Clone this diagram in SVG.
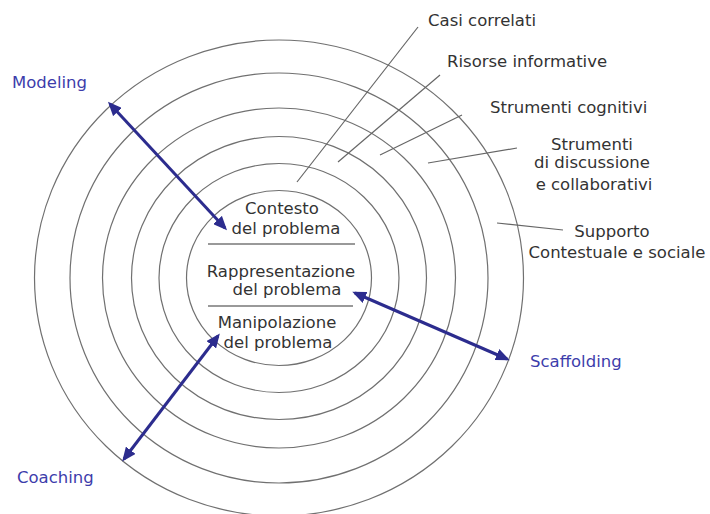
<svg xmlns="http://www.w3.org/2000/svg" width="710" height="514" viewBox="0 0 710 514">
<defs>
<style>
.ring{fill:none;stroke:#707070;stroke-width:1.2}
.sep{stroke:#777;stroke-width:1.3}
.ptr{stroke:#666;stroke-width:1.2}
.t{font-family:"DejaVu Sans",Verdana,sans-serif;font-size:16.5px;fill:#333}
.m{text-anchor:middle}
.b{font-family:"DejaVu Sans",Verdana,sans-serif;font-size:16.5px;fill:#3d3dab}
.arr{stroke:#2c2c8e;stroke-width:3;fill:none;marker-start:url(#ah);marker-end:url(#ah)}
</style>
<marker id="ah" markerUnits="userSpaceOnUse" markerWidth="14" markerHeight="12" viewBox="0 0 14 12" refX="11" refY="6" orient="auto-start-reverse">
<path d="M0,0 L14,6 L0,12 z" fill="#2c2c8e"/>
</marker>
</defs>
<rect width="710" height="514" fill="#fff"/>
<g id="rings">
<ellipse class="ring" cx="279" cy="278" rx="244.5" ry="238"/>
<ellipse class="ring" cx="279" cy="278" rx="209" ry="205"/>
<ellipse class="ring" cx="279" cy="278" rx="176.5" ry="170"/>
<ellipse class="ring" cx="279" cy="278" rx="147.5" ry="141.5"/>
<ellipse class="ring" cx="279" cy="278" rx="120" ry="114.5"/>
<ellipse class="ring" cx="279" cy="278" rx="92.5" ry="87.5"/>
</g>
<g id="center">
<line class="sep" x1="208" y1="244" x2="355" y2="244"/>
<line class="sep" x1="208" y1="306" x2="353" y2="306"/>
<text class="t m" x="282" y="213.5">Contesto</text>
<text class="t m" x="286" y="234">del problema</text>
<text class="t m" x="281" y="277">Rappresentazione</text>
<text class="t m" x="287" y="295">del problema</text>
<text class="t m" x="277" y="328">Manipolazione</text>
<text class="t m" x="278" y="348">del problema</text>
</g>
<g id="connectors">
<line class="ptr" x1="418" y1="27" x2="297" y2="182"/>
<line class="ptr" x1="440" y1="75" x2="338" y2="162"/>
<line class="ptr" x1="462" y1="115" x2="380" y2="155"/>
<line class="ptr" x1="517" y1="148" x2="428" y2="163"/>
<line class="ptr" x1="563" y1="230" x2="497" y2="223"/>
<line class="arr" x1="110" y1="104" x2="225" y2="228"/>
<line class="arr" x1="355" y1="293" x2="507" y2="359"/>
<line class="arr" x1="218" y1="336" x2="124" y2="459"/>
</g>
<g id="layer-labels">
<text class="t" x="428" y="26">Casi correlati</text>
<text class="t" x="447" y="67">Risorse informative</text>
<text class="t" x="490" y="113">Strumenti cognitivi</text>
<text class="t m" x="592" y="150">Strumenti</text>
<text class="t m" x="592" y="168">di discussione</text>
<text class="t m" x="594" y="190">e collaborativi</text>
<text class="t m" x="612" y="237">Supporto</text>
<text class="t m" x="617" y="258">Contestuale e sociale</text>
</g>
<g id="modeling"><text class="b" x="12" y="88">Modeling</text></g>
<g id="scaffolding"><text class="b" x="530" y="367">Scaffolding</text></g>
<g id="coaching"><text class="b" x="17" y="483">Coaching</text></g>
</svg>
